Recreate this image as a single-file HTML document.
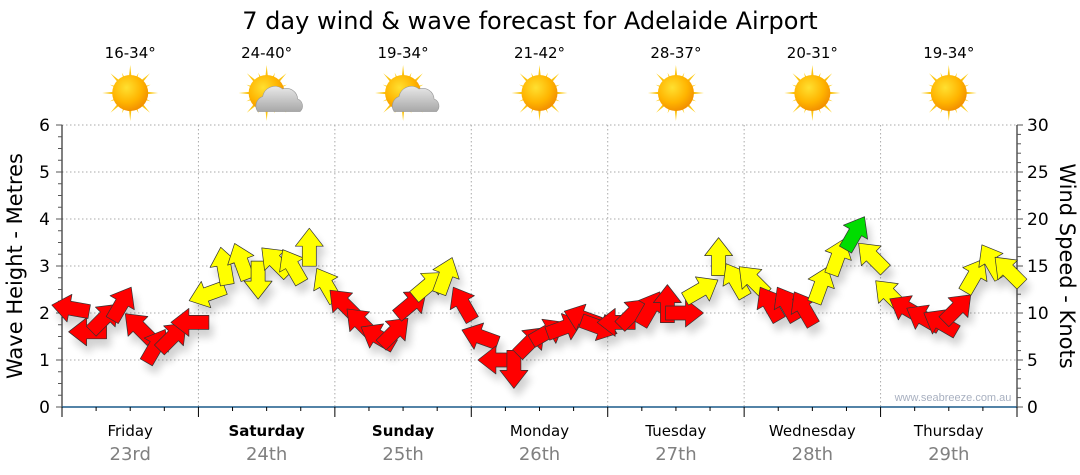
<!DOCTYPE html>
<html><head><meta charset="utf-8"><style>
html,body{margin:0;padding:0;background:#fff;}
svg{display:block;font-family:"DejaVu Sans","Liberation Sans",sans-serif;}
</style></head><body>
<svg id="chart" width="1080" height="475" viewBox="0 0 1080 475">
<defs>
<radialGradient id="sunG" cx="0.4" cy="0.35" r="0.7"><stop offset="0" stop-color="#ffe030"/><stop offset="0.6" stop-color="#ffb400"/><stop offset="1" stop-color="#f08a00"/></radialGradient>
<linearGradient id="rayG" x1="0" y1="0" x2="0" y2="1"><stop offset="0" stop-color="#ffd21a"/><stop offset="1" stop-color="#f0a000"/></linearGradient>
<linearGradient id="cloudG" x1="0" y1="0" x2="0" y2="1"><stop offset="0" stop-color="#e8e8e8"/><stop offset="1" stop-color="#a8a8a8"/></linearGradient>
<filter id="shadow" x="-50%" y="-50%" width="200%" height="200%"><feGaussianBlur in="SourceAlpha" stdDeviation="4"/><feOffset dx="4" dy="8"/><feComponentTransfer><feFuncA type="linear" slope="0.18"/></feComponentTransfer><feMerge><feMergeNode/><feMergeNode in="SourceGraphic"/></feMerge></filter>
</defs>
<text x="530" y="29" text-anchor="middle" font-size="24" fill="#000">7 day wind &amp; wave forecast for Adelaide Airport</text>
<g id="grid"></g>
<g id="axes"></g>
<g id="icons"></g>
<g id="arrows" filter="url(#shadow)"></g>
<text x="953" y="401" text-anchor="middle" font-size="11" fill="#a8b0c0" font-family="Liberation Sans, sans-serif">www.seabreeze.com.au</text>
<text transform="translate(22,266) rotate(-90)" text-anchor="middle" font-size="21" fill="#000">Wave Height - Metres</text>
<text transform="translate(1060,266) rotate(90)" text-anchor="middle" font-size="21" fill="#000">Wind Speed - Knots</text>
</svg>
<script>
const days = ["Friday","Saturday","Sunday","Monday","Tuesday","Wednesday","Thursday"];
const dates = ["23rd","24th","25th","26th","27th","28th","29th"];
const boldDays = [false,true,true,false,false,false,false];
const temps = ["16-34°","24-40°","19-34°","21-42°","28-37°","20-31°","19-34°"];
const cloudy = [false,true,true,false,false,false,false];
const waveTicks = [0,1,2,3,4,5,6];
const windTicks = [0,5,10,15,20,25,30];
// wind speed (knots), 3-hourly, 8 per day
const windSpeed = [
 10.5,8,9.5,11,8.5,6.5,7.5,9,
 12,15,15.5,13.5,15.5,15,17,13,
 11,9,7.5,8,11,13,14,11,
 7.5,5,4,7,8,8.5,9.5,8.5,
 9,10,10.5,11,10,12.5,16,13.5,
 13.5,11,11,10.5,13,16,18.5,16,
 12,10.5,9.5,9,10.5,14,15.5,14.5];
// arrow pointing direction (deg, 0=right, 90=up)
const windDir = [
 170,180,45,60,135,60,45,180,
 200,100,110,270,135,120,90,120,
 135,135,150,45,40,40,70,120,
 160,180,270,45,30,20,160,340,
 180,45,60,90,0,30,90,120,
 135,120,120,120,70,70,60,135,
 135,150,150,150,45,60,120,135];

const NS="http://www.w3.org/2000/svg";
const X0=62,X1=1017,Y0=407,Y1=125;
const dayW=(X1-X0)/7;
const xTime=h=>X0+h/24*dayW;
const yWave=m=>Y0-(Y0-Y1)*m/6;
const yWind=k=>Y0-(Y0-Y1)*k/30;
function el(tag,attrs,parent){const e=document.createElementNS(NS,tag);for(const k in attrs)e.setAttribute(k,attrs[k]);parent.appendChild(e);return e;}
const grid=document.getElementById('grid'),axes=document.getElementById('axes'),icons=document.getElementById('icons'),arrows=document.getElementById('arrows');

waveTicks.forEach(v=>{ if(v>0){const l=el('line',{x1:X0,x2:X1,y1:yWave(v),y2:yWave(v),stroke:'#aaa','stroke-dasharray':'1.5,2.5'},grid);

}});
for(let d=1;d<7;d++){const l=el('line',{x1:xTime(d*24),x2:xTime(d*24),y1:Y1,y2:Y0,stroke:'#aaa','stroke-dasharray':'1.5,2.5'},grid);

}

el('line',{x1:X0,x2:X0,y1:Y1,y2:Y0,stroke:'#000'},axes);
el('line',{x1:X1,x2:X1,y1:Y1,y2:Y0,stroke:'#000'},axes);
el('line',{x1:X0,x2:X1,y1:Y0,y2:Y0,stroke:'#1a5a8a','stroke-width':1.5},axes);
for(let m=0;m<=24;m++){const y=yWave(m/4);el('line',{x1:m%4?X0-4:X0-6,x2:X0,y1:y,y2:y,stroke:'#555'},axes);}
for(let k=0;k<=30;k++){const y=yWind(k);el('line',{x1:X1,x2:k%5?X1+4:X1+6,y1:y,y2:y,stroke:'#555'},axes);}
for(let h=0;h<=168;h+=6){const x=xTime(h);el('line',{x1:x,x2:x,y1:Y0,y2:h%24?Y0+4:Y0+10,stroke:'#000'},axes);}
waveTicks.forEach(v=>{const t=el('text',{x:X0-12,y:yWave(v)+6,'text-anchor':'end','font-size':17,fill:'#000'},axes);t.textContent=v;

});
windTicks.forEach(v=>{const t=el('text',{x:X1+10,y:yWind(v)+6,'font-size':17,fill:'#000'},axes);t.textContent=v;

});
days.forEach((d,i)=>{const cx=xTime(i*24+12);
 const t=el('text',{x:cx,y:436,'text-anchor':'middle','font-size':15,fill:'#000','font-weight':boldDays[i]?'bold':'normal'},axes);t.textContent=d;
 
 
 const t2=el('text',{x:cx,y:460,'text-anchor':'middle','font-size':18,fill:'#808080'},axes);t2.textContent=dates[i];
 
 
 const t3=el('text',{x:cx,y:58,'text-anchor':'middle','font-size':15,fill:'#000'},icons);t3.textContent=temps[i];
 
 
 const g=el('g',{transform:`translate(${cx},93)`},icons);
 
 
 for(let r=0;r<16;r++){const a=r*22.5,len=r%2?22:28;el('polygon',{points:`-3,0 3,0 0,${-len}`,fill:'url(#rayG)',transform:`rotate(${a})`},g);}
 el('circle',{r:18,fill:'url(#sunG)'},g);
 if(cloudy[i]){const c=el('g',{transform:'translate(11,6) scale(1.25)'},g);
  el('path',{d:'M-16,10 A8,8 0 0 1 -12,-2 A10,10 0 0 1 4,-8 A9,9 0 0 1 16,0 A6,6 0 0 1 18,10 Z',fill:'url(#cloudG)',stroke:'#999','stroke-width':0.5},c);}
});

const colorFor=k=>k>=18?'#00dd00':(k>=12?'#ffff00':'#ff0000');
windSpeed.forEach((k,i)=>{
 const x=xTime(i*3+1.5),y=yWind(k),a=windDir[i];
 const p=el('polygon',{points:'19,0 1,-14 1,-7 -19,-7 -19,7 1,7 1,14',fill:colorFor(k),stroke:'#333','stroke-width':0.7,'stroke-linejoin':'round',transform:`translate(${x.toFixed(1)},${y.toFixed(1)}) rotate(${-a})`},arrows);
 
 
});
</script>
</body></html>
